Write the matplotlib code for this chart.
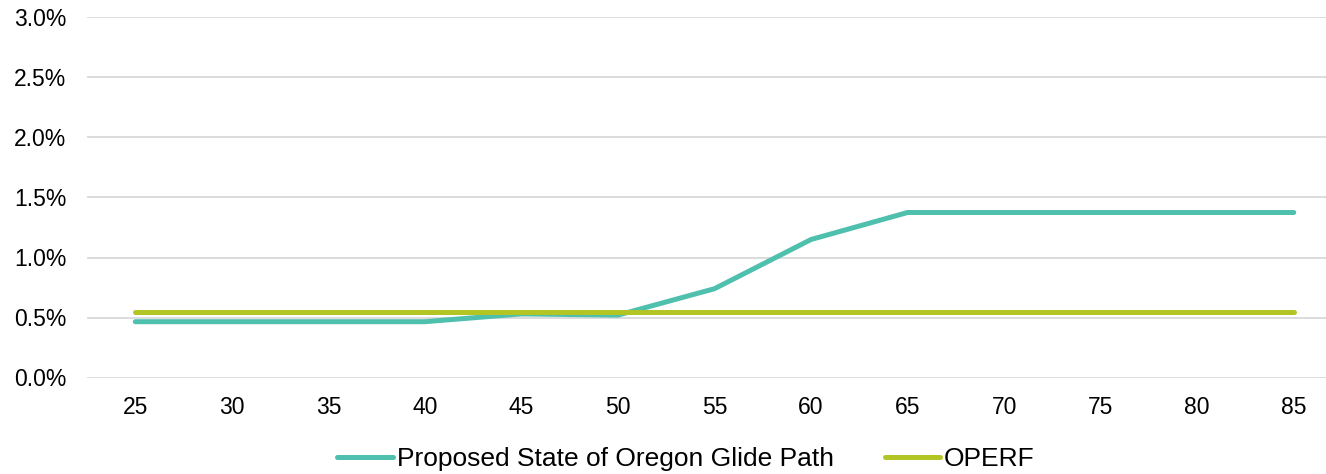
import matplotlib.pyplot as plt
from matplotlib.ticker import PercentFormatter

ages = [25, 30, 35, 40, 45, 50, 55, 60, 65, 70, 75, 80, 85]
glide_path = [0.465, 0.465, 0.465, 0.465, 0.53, 0.52, 0.74, 1.15, 1.375,
              1.375, 1.375, 1.375, 1.375]
operf = [0.547] * 13

TEAL = '#4FBFAE'
LIME = '#B2C524'

plt.rcParams['font.family'] = ['Liberation Sans', 'DejaVu Sans']

fig = plt.figure(figsize=(13.26, 4.74), dpi=100)
ax = fig.add_axes([87 / 1326, 1 - 377.5 / 474, (1342 - 87) / 1326, 360 / 474])

x = list(range(len(ages)))
ax.plot(x, glide_path, color=TEAL, lw=3.6, solid_capstyle='round',
        label='Proposed State of Oregon Glide Path')
ax.plot(x, operf, color=LIME, lw=3.6, solid_capstyle='round', label='OPERF')

ax.set_xlim(-0.5, len(ages) - 0.5)
ax.set_ylim(0, 3.0)
ax.set_yticks([0, 0.5, 1.0, 1.5, 2.0, 2.5, 3.0])
ax.yaxis.set_major_formatter(PercentFormatter(decimals=1))
ax.set_xticks(x)
ax.set_xticklabels([str(a) for a in ages])
ax.tick_params(length=0, labelsize=16.5, colors='black')
ax.tick_params(axis='y', pad=15)
ax.tick_params(axis='x', pad=13)

ax.yaxis.grid(True, color='#D9D9D9', lw=1.3)
ax.set_axisbelow(True)
for s in ax.spines.values():
    s.set_visible(False)

fig.legend(loc='center', bbox_to_anchor=(686 / 1326, 1 - 459 / 474), ncol=2,
           frameon=False, fontsize=19, handlelength=2.1, handletextpad=0.15,
           columnspacing=1.93)

fig.savefig('out.png', dpi=100)
